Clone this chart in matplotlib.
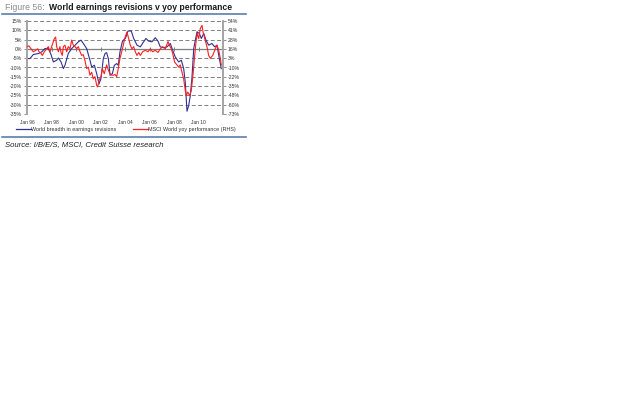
import numpy as np
import matplotlib
matplotlib.use("Agg")
import matplotlib.pyplot as plt
from matplotlib.lines import Line2D

plt.rcParams['font.family'] = ['Liberation Sans', 'DejaVu Sans']

# world breadth in earnings revisions (left axis, %)
blue_t = [1996.0, 1996.24, 1996.52, 1996.93, 1997.2, 1997.47, 1997.74, 1997.96, 1998.15, 1998.42,
          1998.56, 1998.78, 1998.97, 1999.1, 1999.37, 1999.65, 1999.92, 2000.19, 2000.41, 2000.6,
          2000.87, 2001.14, 2001.28, 2001.5, 2001.69, 2001.88, 2002.04, 2002.23, 2002.37, 2002.5,
          2002.64, 2002.78, 2002.97, 2003.13, 2003.32, 2003.45, 2003.59, 2003.78, 2003.94, 2004.03,
          2004.24, 2004.51, 2004.71, 2004.98, 2005.25, 2005.52, 2005.71, 2005.93, 2006.2, 2006.47,
          2006.69, 2006.88, 2007.16, 2007.43, 2007.7, 2007.84, 2008.1, 2008.38, 2008.6, 2008.79,
          2008.92, 2009.06, 2009.2, 2009.33, 2009.47, 2009.61, 2009.74, 2009.88, 2010.07, 2010.23,
          2010.43, 2010.61, 2010.83, 2011.1, 2011.32, 2011.51, 2011.7, 2011.86]
blue_v = [-5.2, -5.2, -3.0, -2.5, -1.6, 0.2, 0.2, -3.0, -7.0, -6.1,
          -4.9, -7.0, -10.6, -8.8, -2.5, 0.2, 2.0, 3.8, 4.7, 2.9,
          0.2, -6.1, -9.7, -8.8, -13.3, -18.8, -16.0, -5.2, -2.5, -2.0,
          -5.2, -14.2, -13.3, -8.8, -7.9, -8.8, -1.6, 3.8, 5.3, 5.6,
          9.6, 9.6, 5.6, 2.0, 1.1, 3.8, 5.6, 4.2, 3.8, 6.0,
          4.2, 1.1, 0.6, 1.1, 2.9, 0.2, -4.3, -7.0, -6.1, -10.6,
          -17.9, -33.5, -30.5, -25.1, -15.1, 0.2, 4.7, 9.2, 8.3, 5.6,
          8.3, 4.7, 2.0, 2.9, 1.1, 2.0, -5.2, -10.6]

# MSCI World yoy performance (right axis, %)
red_t = [1996.0, 1996.16, 1996.33, 1996.52, 1996.71, 1996.87, 1996.98, 1997.14, 1997.25, 1997.41,
         1997.6, 1997.74, 1997.88, 1998.01, 1998.15, 1998.23, 1998.34, 1998.42, 1998.56, 1998.69,
         1998.78, 1998.88, 1998.97, 1999.1, 1999.24, 1999.37, 1999.51, 1999.65, 1999.78, 1999.92,
         2000.05, 2000.19, 2000.33, 2000.46, 2000.6, 2000.73, 2000.87, 2001.01, 2001.14, 2001.28,
         2001.41, 2001.55, 2001.69, 2001.77, 2001.88, 2002.04, 2002.15, 2002.31, 2002.5, 2002.64,
         2002.78, 2002.91, 2003.05, 2003.18, 2003.32, 2003.45, 2003.59, 2003.73, 2003.86, 2003.97,
         2004.16, 2004.3, 2004.43, 2004.57, 2004.71, 2004.84, 2004.98, 2005.12, 2005.25, 2005.44,
         2005.66, 2005.88, 2006.07, 2006.26, 2006.47, 2006.69, 2006.88, 2007.08, 2007.29, 2007.51,
         2007.62, 2007.78, 2007.89, 2008.05, 2008.24, 2008.38, 2008.51, 2008.65, 2008.79, 2008.92,
         2009.0, 2009.12, 2009.28, 2009.41, 2009.55, 2009.69, 2009.8, 2009.9, 2010.02, 2010.15,
         2010.29, 2010.37, 2010.51, 2010.69, 2010.83, 2010.96, 2011.16, 2011.37, 2011.51, 2011.65,
         2011.78, 2011.86]
red_v = [19, 20, 16, 12, 14, 16, 12, 10, 7, 12,
         16, 19, 12, 19, 26, 30, 32, 19, 12, 19,
         11, 7, 19, 21, 12, 19, 16, 28, 21, 19,
         16, 19, 12, 7, 8, 0, -11, -9, -20, -16,
         -25, -22, -34, -36, -27, -22, -11, -18, -6, -13,
         -18, -20, -20, -19, -22, -11, 3, 12, 21, 30,
         39, 30, 21, 16, 19, 12, 7, 11, 7, 12,
         14, 12, 16, 12, 14, 11, 16, 19, 16, 26,
         21, 16, 10, -2, -6, -9, -6, -16, -25, -41,
         -48, -43, -48, -41, -20, 7, 26, 37, 30, 44,
         48, 39, 30, 19, 7, 3, 7, 16, 21, 14,
         3, -6]

x_ticks = [1996, 1998, 2000, 2002, 2004, 2006, 2008, 2010]
x_labels = ['Jan 96', 'Jan 98', 'Jan 00', 'Jan 02', 'Jan 04', 'Jan 06', 'Jan 08', 'Jan 10']
left_ticks = [15, 10, 5, 0, -5, -10, -15, -20, -25, -30, -35]
right_labels = ['54%', '41%', '28%', '16%', '3%', '-10%', '-22%', '-35%', '-48%', '-60%', '-73%']

blue_c = '#2e3192'
red_c = '#ff1f1f'
grid_c = '#7f7f7f'

fig = plt.figure(figsize=(6.4, 4.03), dpi=100)
ax = fig.add_axes([27 / 640, 1 - 114 / 403, 196 / 640, 93 / 403])
ax2 = ax.twinx()

ax.set_xlim(1996, 2012)
ax.set_ylim(-35, 15)
ax2.set_ylim(-73, 54)

for v in left_ticks:
    if v == 0:
        ax.axhline(v, color=grid_c, lw=0.9, zorder=1)
    else:
        ax.axhline(v, color=grid_c, lw=0.7, ls=(0, (4, 2.5)), zorder=1)

ax.plot(blue_t, blue_v, color=blue_c, lw=0.8, zorder=3)
ax2.plot(red_t, red_v, color=red_c, lw=0.8, zorder=3)

# axes look
for a in (ax, ax2):
    a.spines['top'].set_visible(False)
    a.spines['left'].set_color('#a6a6a6')
    a.spines['right'].set_color('#a6a6a6')
    a.spines['left'].set_linewidth(1.3)
    a.spines['right'].set_linewidth(1.3)
    a.spines['bottom'].set_visible(False)

ax.set_yticks(left_ticks)
ax.set_yticklabels([f'{v}%' for v in left_ticks])
ax2.set_yticks(np.linspace(54, -73, len(right_labels)))
ax2.set_yticklabels(right_labels)
ax.tick_params(axis='y', labelsize=3.7, length=2, width=0.6, color='#808080', pad=1.5, labelcolor='#333333')
ax2.tick_params(axis='y', labelsize=3.7, length=2, width=0.6, color='#808080', pad=1.5, labelcolor='#333333')

ax.set_xticks(x_ticks)
ax.set_xticklabels(x_labels)
ax.tick_params(axis='x', labelsize=3.5, length=0, pad=4, labelcolor='#333333')

# tick marks sit on the zero line
zero_ax = ax.secondary_xaxis(35 / 50)
zero_ax.set_xticks(x_ticks)
zero_ax.set_xticklabels([])
zero_ax.tick_params(length=2.5, width=0.6, color='#666666', direction='inout')
zero_ax.spines['bottom'].set_visible(False)
zero_ax.spines['top'].set_visible(False)

handles = [Line2D([], [], color=blue_c, lw=0.9), Line2D([], [], color=red_c, lw=0.9)]
fig.legend(handles, ['World breadth in earnings revisions', 'MSCI World yoy performance (RHS)'],
           loc='center', bbox_to_anchor=(126 / 640, 1 - 129 / 403), ncol=2, frameon=False,
           fontsize=3.85, handlelength=2.8, handletextpad=0.1, columnspacing=3,
           labelcolor='#333333')

# title and rules
fig.text(5 / 640, 1 - 8 / 403, 'Figure 56:', fontsize=6.3, color='#8c8c8c', va='center')
fig.text(49 / 640, 1 - 8 / 403, 'World earnings revisions v yoy performance', fontsize=6.2,
         fontweight='bold', color='#1a1a1a', va='center')
fig.add_artist(Line2D([2 / 640, 246 / 640], [1 - 14 / 403, 1 - 14 / 403], color='#5a7fb0', lw=1.2))
fig.add_artist(Line2D([2 / 640, 246 / 640], [1 - 137 / 403, 1 - 137 / 403], color='#5a7fb0', lw=1.2))
fig.text(5 / 640, 1 - 145 / 403, 'Source: I/B/E/S, MSCI, Credit Suisse research', fontsize=5.6,
         style='italic', color='#222222', va='center')

fig.savefig('out.png', dpi=100)
